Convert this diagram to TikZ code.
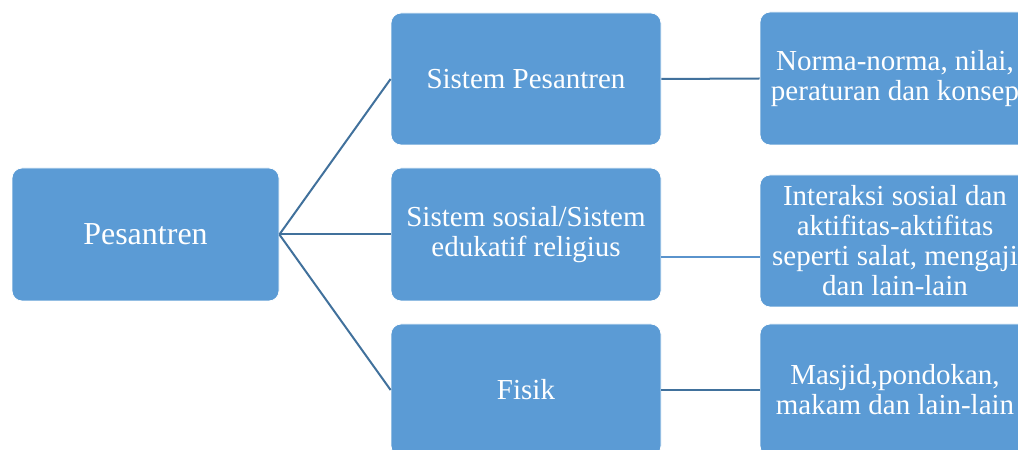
\documentclass[tikz,border=0pt]{standalone}
\usepackage{fontspec}
\setmainfont{Liberation Serif}[Ligatures=TeX]
\newfontfamily\boxfont{Liberation Serif}
\definecolor{boxblue}{HTML}{5B9BD5}
\definecolor{linkblue}{HTML}{41719C}
\definecolor{softlink}{HTML}{5A93CC}
\begin{document}
\begin{tikzpicture}[x=1pt,y=1pt,
  box/.style={rectangle, rounded corners=10pt, fill=boxblue, draw=white, line width=0.8pt,
    minimum width=270pt, minimum height=132pt, inner sep=2pt, text=white, align=center,
    font=\boxfont\fontsize{29}{30}\selectfont},
  link/.style={draw=linkblue, line width=2pt},
  thinlink/.style={draw=softlink, line width=1.2pt}]
\useasboundingbox (0,0) rectangle (1018,450);
\clip (0,0) rectangle (1018,450);

% root
\node[box, minimum width=267pt, minimum height=133pt, font=\boxfont\fontsize{32}{34}\selectfont]
  (root) at (145.5,215.5) {Pesantren};

% middle column
\node[box] (m1) at (526,371) {Sistem Pesantren};
\node[box, minimum height=133pt] (m2) at (526,215.5) {Sistem sosial/Sistem\\edukatif religius};
\node[box] (m3) at (526,60) {Fisik};

% right column
\node[box, minimum height=133pt] (r1) at (895,371.5) {Norma-norma, nilai,\\peraturan dan konsep};
\node[box] (r2) at (895,209) {Interaksi sosial dan\\aktifitas-aktifitas\\seperti salat, mengaji\\dan lain-lain};
\node[box] (r3) at (895,60) {Masjid,pondokan,\\makam dan lain-lain};

% branches from the root
\draw[link] (root.east) -- (m1.west);
\draw[link] (root.east) -- (m2.west);
\draw[link] (root.east) -- (m3.west);

% middle to right
\draw[link] (m1.east) -- (r1.west);
\draw[thinlink] ([yshift=-22.5pt]m2.east) -- ([yshift=-16pt]r2.west);
\draw[link] (m3.east) -- (r3.west);
\end{tikzpicture}
\end{document}
